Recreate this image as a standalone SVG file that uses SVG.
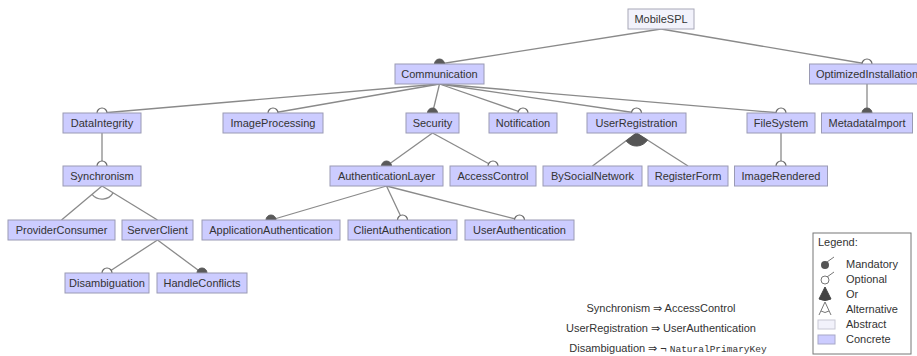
<svg xmlns="http://www.w3.org/2000/svg" width="917" height="356" viewBox="0 0 917 356">
<style>
  .c rect{fill:#ccccff;stroke:#9a9ab4;stroke-width:1}
  .a rect{fill:#f2f2fb;stroke:#a8a8b8;stroke-width:1}
  text{font-family:"Liberation Sans",Arial,sans-serif;font-size:11px;fill:#333}
  .n text{text-anchor:middle}
  .ln line,.ln path.l{stroke:#8a8a8a;stroke-width:1.3;fill:none}
  .m{fill:#5a5a5a;stroke:#5a5a5a;stroke-width:1}
  .o{fill:#fff;stroke:#6a6a6a;stroke-width:1.2}
  .or{fill:#555;stroke:#555;stroke-width:1}
  .mono{font-family:"Liberation Mono","DejaVu Sans Mono",monospace;font-size:9.5px}
</style>
<rect x="0" y="0" width="917" height="356" fill="#fff"/>

<g id="connectors" class="ln">
  <line x1="661" y1="29" x2="439.5" y2="64"/>
  <line x1="661" y1="29" x2="867" y2="64"/>
  <line x1="439.5" y1="84" x2="102" y2="113"/>
  <line x1="439.5" y1="84" x2="273" y2="113"/>
  <line x1="439.5" y1="84" x2="432.5" y2="113"/>
  <line x1="439.5" y1="84" x2="523" y2="113"/>
  <line x1="439.5" y1="84" x2="636.5" y2="113"/>
  <line x1="439.5" y1="84" x2="781" y2="113"/>
  <line x1="867" y1="84" x2="867" y2="113"/>
  <line x1="102" y1="133" x2="102" y2="166"/>
  <line x1="432.5" y1="133" x2="386.5" y2="166"/>
  <line x1="432.5" y1="133" x2="493" y2="166"/>
  <line x1="636.5" y1="133" x2="592.5" y2="166"/>
  <line x1="636.5" y1="133" x2="688" y2="166"/>
  <line x1="781" y1="133" x2="781" y2="166"/>
  <line x1="102" y1="186" x2="61.5" y2="220"/>
  <line x1="102" y1="186" x2="157.5" y2="220"/>
  <line x1="386.5" y1="186" x2="271" y2="220"/>
  <line x1="386.5" y1="186" x2="402.5" y2="220"/>
  <line x1="386.5" y1="186" x2="519.5" y2="220"/>
  <line x1="157.5" y1="240" x2="107" y2="273"/>
  <line x1="157.5" y1="240" x2="202" y2="273"/>
  <path class="l" d="M113.1 192.8 A13 13 0 0 1 92 194.4"/>
  <path class="or" d="M636.5 133 L647.5 140 A13 13 0 0 1 626.1 140.8 Z"/>
  <circle class="m" cx="439.5" cy="64" r="5"/>
  <circle class="o" cx="867" cy="64" r="5"/>
  <circle class="o" cx="102" cy="113" r="5"/>
  <circle class="o" cx="273" cy="113" r="5"/>
  <circle class="m" cx="432.5" cy="113" r="5"/>
  <circle class="o" cx="523" cy="113" r="5"/>
  <circle class="o" cx="636.5" cy="113" r="5"/>
  <circle class="o" cx="781" cy="113" r="5"/>
  <circle class="m" cx="867" cy="113" r="5"/>
  <circle class="o" cx="102" cy="166" r="5"/>
  <circle class="m" cx="386.5" cy="166" r="5"/>
  <circle class="o" cx="493" cy="166" r="5"/>
  <circle class="o" cx="781" cy="166" r="5"/>
  <circle class="m" cx="271" cy="220" r="5"/>
  <circle class="o" cx="402.5" cy="220" r="5"/>
  <circle class="o" cx="519.5" cy="220" r="5"/>
  <circle class="o" cx="107" cy="273" r="5"/>
  <circle class="m" cx="202" cy="273" r="5"/>
</g>

<g id="MobileSPL" class="n a"><rect x="628" y="9" width="66" height="20"/><text x="661" y="23">MobileSPL</text></g>
<g id="Communication" class="n c"><rect x="395" y="64" width="89" height="20"/><text x="439.5" y="78">Communication</text></g>
<g id="OptimizedInstallation" class="n c"><rect x="809.5" y="64" width="115" height="20"/><text x="867" y="78">OptimizedInstallation</text></g>
<g id="DataIntegrity" class="n c"><rect x="63" y="113" width="78" height="20"/><text x="102" y="127">DataIntegrity</text></g>
<g id="ImageProcessing" class="n c"><rect x="223" y="113" width="100" height="20"/><text x="273" y="127">ImageProcessing</text></g>
<g id="Security" class="n c"><rect x="406" y="113" width="53" height="20"/><text x="432.5" y="127">Security</text></g>
<g id="Notification" class="n c"><rect x="489" y="113" width="68" height="20"/><text x="523" y="127">Notification</text></g>
<g id="UserRegistration" class="n c"><rect x="587" y="113" width="99" height="20"/><text x="636.5" y="127">UserRegistration</text></g>
<g id="FileSystem" class="n c"><rect x="747" y="113" width="68" height="20"/><text x="781" y="127">FileSystem</text></g>
<g id="MetadataImport" class="n c"><rect x="821.5" y="113" width="91" height="20"/><text x="867" y="127">MetadataImport</text></g>
<g id="Synchronism" class="n c"><rect x="63" y="166" width="78" height="20"/><text x="102" y="180">Synchronism</text></g>
<g id="AuthenticationLayer" class="n c"><rect x="330" y="166" width="113" height="20"/><text x="386.5" y="180">AuthenticationLayer</text></g>
<g id="AccessControl" class="n c"><rect x="450" y="166" width="86" height="20"/><text x="493" y="180">AccessControl</text></g>
<g id="BySocialNetwork" class="n c"><rect x="543" y="166" width="99" height="20"/><text x="592.5" y="180">BySocialNetwork</text></g>
<g id="RegisterForm" class="n c"><rect x="648" y="166" width="80" height="20"/><text x="688" y="180">RegisterForm</text></g>
<g id="ImageRendered" class="n c"><rect x="734.5" y="166" width="93" height="20"/><text x="781" y="180">ImageRendered</text></g>
<g id="ProviderConsumer" class="n c"><rect x="8" y="220" width="107" height="20"/><text x="61.5" y="234">ProviderConsumer</text></g>
<g id="ServerClient" class="n c"><rect x="122" y="220" width="71" height="20"/><text x="157.5" y="234">ServerClient</text></g>
<g id="ApplicationAuthentication" class="n c"><rect x="202" y="220" width="138" height="20"/><text x="271" y="234">ApplicationAuthentication</text></g>
<g id="ClientAuthentication" class="n c"><rect x="348" y="220" width="109" height="20"/><text x="402.5" y="234">ClientAuthentication</text></g>
<g id="UserAuthentication" class="n c"><rect x="465" y="220" width="109" height="20"/><text x="519.5" y="234">UserAuthentication</text></g>
<g id="Disambiguation" class="n c"><rect x="65" y="273" width="84" height="20"/><text x="107" y="287">Disambiguation</text></g>
<g id="HandleConflicts" class="n c"><rect x="157" y="273" width="90" height="20"/><text x="202" y="287">HandleConflicts</text></g>

<g id="constraints">
  <text x="661" y="312" text-anchor="middle">Synchronism ⇒ AccessControl</text>
  <text x="661" y="332" text-anchor="middle">UserRegistration ⇒ UserAuthentication</text>
  <text x="668" y="352" text-anchor="middle">Disambiguation ⇒ ¬ <tspan class="mono">NaturalPrimaryKey</tspan></text>
</g>

<g id="legend">
  <rect x="813" y="233" width="98" height="121" fill="#fff" stroke="#777" stroke-width="1"/>
  <text x="818" y="246">Legend:</text>
  <circle cx="825" cy="265" r="4" fill="#555"/>
  <line x1="827" y1="262" x2="834" y2="257" stroke="#777" stroke-width="1"/>
  <text x="846" y="268">Mandatory</text>
  <circle cx="825" cy="280" r="4" fill="#fff" stroke="#777" stroke-width="1"/>
  <line x1="827" y1="277" x2="834" y2="272" stroke="#777" stroke-width="1"/>
  <text x="846" y="283">Optional</text>
  <path d="M825 287 L819 299 Q825 302 831 299 Z" fill="#444" stroke="#444" stroke-width="1"/>
  <text x="846" y="298">Or</text>
  <path d="M819 315 L825 302 L831 315" fill="none" stroke="#777" stroke-width="1"/>
  <path d="M821 311 Q825 314 829 311" fill="none" stroke="#777" stroke-width="1"/>
  <text x="846" y="313">Alternative</text>
  <rect x="818" y="320" width="17" height="9" fill="#f2f2fb" stroke="#c8c8d4" stroke-width="1"/>
  <text x="846" y="328">Abstract</text>
  <rect x="818" y="335" width="17" height="9" fill="#ccccff" stroke="#a8a8c8" stroke-width="1"/>
  <text x="846" y="343">Concrete</text>
</g>
</svg>
